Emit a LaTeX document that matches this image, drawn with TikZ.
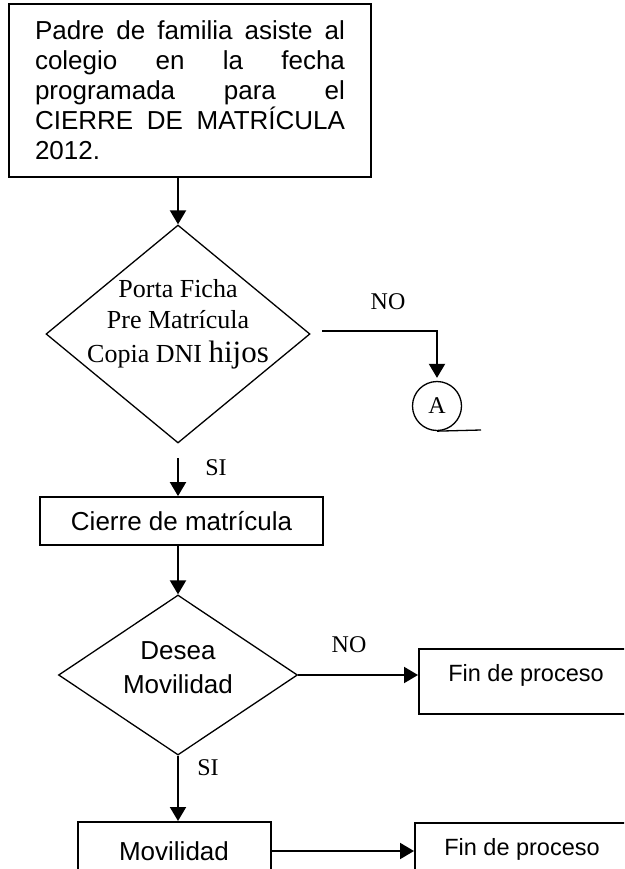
\documentclass[tikz,border=0pt]{standalone}
\usepackage{fontspec}
\setmainfont{Liberation Serif}
\newfontfamily\arialf{Liberation Sans}
\usetikzlibrary{arrows.meta,shapes.geometric}
\begin{document}
\begin{tikzpicture}[x=1pt,y=-1pt,
  boxnode/.style={draw,line width=1.8pt,inner sep=0pt},
  dia/.style={draw,diamond,line width=1.3pt,inner sep=0pt},
  arr/.style={line width=2pt,-{Triangle[length=14pt,width=16pt]}},
  ar/.style={font=\arialf\fontsize{26}{30}\selectfont,inner sep=0pt},
  ar2/.style={font=\arialf\fontsize{23.5}{28}\selectfont,inner sep=0pt},
  tm/.style={font=\fontsize{24}{28}\selectfont,inner sep=0pt},
  tmb/.style={font=\fontsize{26}{30}\selectfont,inner sep=0pt,anchor=base}]
\useasboundingbox (0,0) rectangle (624,869);
\clip (0,0) rectangle (624,869);
% top box
\node[boxnode,line width=2pt,minimum width=362,minimum height=173,ar,align=left] (top) at (190,90.5)
 {\makebox[310pt][s]{Padre de familia asiste al}\\
  \makebox[310pt][s]{colegio en la fecha}\\
  \makebox[310pt][s]{programada para el}\\
  \makebox[310pt][s]{CIERRE DE MATRÍCULA}\\
  2012.};
% first decision
\node[dia,minimum width=264,minimum height=218] (d1) at (178,334) {};
\node[tmb] (t1a) at (178,297) {Porta Ficha};
\node[tmb] (t1b) at (178,328) {Pre Matrícula};
\node[tmb] (t1c) at (178,362) {Copia DNI {\fontsize{31}{34}\selectfont hijos}};
\draw[arr] (top.south -| d1.north) -- (d1.north);
% NO branch to connector A
\node[draw,circle,line width=1.3pt,minimum size=49,tm] (A) at (437,406) {A};
\coordinate (no1s) at (322,331);
\draw[arr,shorten >=3pt] (no1s) -| (A.north);
\node[tm] (no1) at (388,302) {NO};
\coordinate (Aend) at (481,430);
\draw[line width=1.3pt] (A.south) -- (Aend);
% SI to cierre
\node[boxnode,minimum width=283,minimum height=48,ar] (cierre) at (181.5,521) {Cierre de matrícula};
\coordinate (si1s) at (178,458);
\draw[arr] (si1s) -- (si1s |- cierre.north);
\node[tm] (si1) at (216,468) {SI};
% second decision
\node[dia,minimum width=239,minimum height=160] (d2) at (178,675) {};
\node[ar] (t2a) at (178,651) {Desea};
\node[ar] (t2b) at (178,684) {Movilidad};
\draw[arr] (cierre.south -| d2.north) -- (d2.north);
% NO branch
\node[boxnode,minimum width=222,minimum height=65,anchor=north west] (fin1) at (418,648) {};
\node[ar2] (fin1t) at (526,675) {Fin de proceso};
\draw[arr] (d2.east) -- (d2.east -| fin1.west);
\node[tm] (no2) at (349,645) {NO};
% SI branch
\node[boxnode,minimum width=193,minimum height=80,anchor=north west] (mov) at (77,821) {};
\node[ar] (movt) at (174,851) {Movilidad};
\draw[arr] (d2.south) -- (d2.south |- mov.north);
\node[tm] (si2) at (208,768) {SI};
\node[boxnode,minimum width=230,minimum height=80,anchor=north west] (fin2) at (414,822) {};
\node[ar2] (fin2t) at (522,849) {Fin de proceso};
\draw[arr] (movt -| mov.east) -- (movt -| fin2.west);
\end{tikzpicture}
\end{document}
